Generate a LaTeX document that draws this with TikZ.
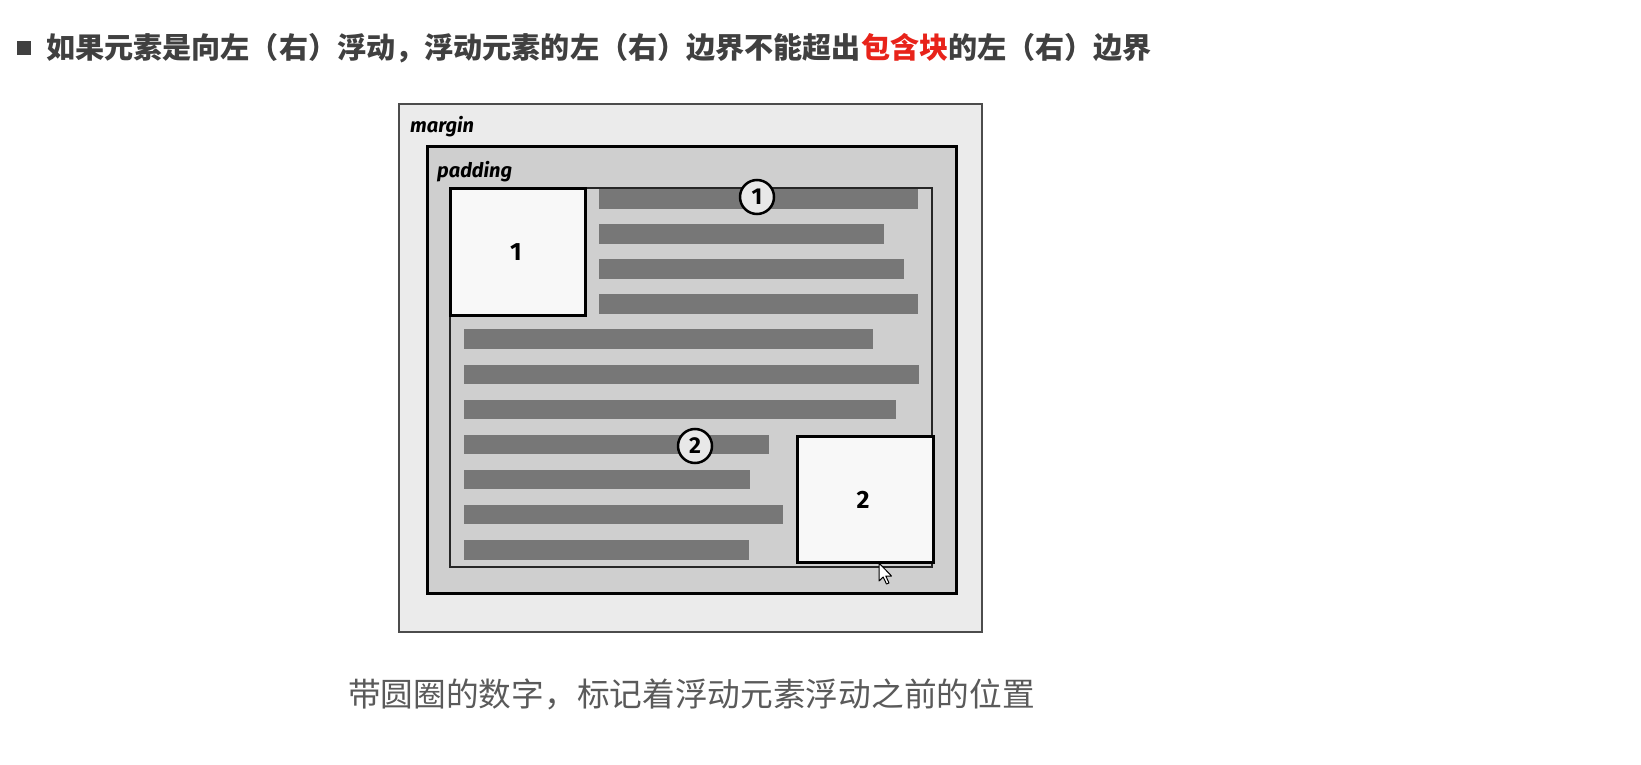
\documentclass[tikz,border=0pt]{standalone}
\usepackage{fontspec}
\newfontfamily\cjk{Noto Sans CJK SC}
\newfontfamily\lab{Fira Sans}
\definecolor{headgray}{HTML}{404040}
\definecolor{hred}{HTML}{E8231A}
\definecolor{capgray}{HTML}{5A5A5A}
\definecolor{margfill}{HTML}{EBEBEB}
\definecolor{padfill}{HTML}{CFCFCF}
\definecolor{barfill}{HTML}{777777}
\definecolor{floatfill}{HTML}{F8F8F8}
\definecolor{circfill}{HTML}{E8E8E8}
\begin{document}
\begin{tikzpicture}[x=1pt,y=-1pt,
  marginbox/.style={draw=black!70,line width=1.5pt,fill=margfill},
  padbox/.style={draw=black,line width=3pt,fill=padfill},
  contentbox/.style={draw=black!85,line width=1.6pt,fill=padfill},
  floatbox/.style={draw=black,line width=3pt,fill=floatfill},
  bar/.style={fill=barfill},
  boxlabel/.style={inner sep=0,anchor=base west,font=\lab\bfseries\itshape\fontsize{20}{22}\selectfont},
  numlabel/.style={inner sep=0,font=\lab\bfseries\fontsize{25}{27}\selectfont},
  circmark/.style={circle,draw=black,line width=2.5pt,fill=circfill,minimum size=34pt,inner sep=0,font=\lab\bfseries\fontsize{23}{25}\selectfont}]
\useasboundingbox[fill=white] (0,0) rectangle (1641,765);
% heading
\fill[headgray] (17,41) rectangle (31,55);
\node[anchor=west,inner sep=0,text=headgray,font=\cjk\bfseries\fontsize{29.1}{31}\selectfont] (title) at (46,48)
  {如果元素是向左（右）浮动，浮动元素的左（右）边界不能超出\textcolor{hred}{包含块}的左（右）边界};
% boxes
\draw[marginbox] (399,104) rectangle (982,632);
\draw[padbox] (427,147) rectangle (956,593);
\draw[contentbox] (450,188) rectangle (932,567);
% text bars
\foreach \k/\xl/\xr in {0/599/918,1/599/884,2/599/904,3/599/918,4/464/873,5/464/919,6/464/896,7/464/769,8/464/750,9/464/783,10/464/749}{
  \fill[bar] (\xl,{189+35.1*\k}) rectangle (\xr,{208.5+35.1*\k});
}
% floats
\draw[floatbox] (450,188) rectangle (585,315);
\draw[floatbox] (797,436) rectangle (933,562);
\node[numlabel] (f1) at (516,252) {1};
\node[numlabel] (f2) at (863,500) {2};
% labels
\node[boxlabel] (marginlab) at (410,133) {margin};
\node[boxlabel] (paddinglab) at (437,178) {padding};
% circled markers
\node[circmark] (c1) at (757,197) {1};
\node[circmark] (c2) at (695,446) {2};
% cursor
\draw[fill=white,draw=black,line width=1pt,line join=round,shift={(879,563)}]
  (0,0) -- (0,18) -- (4.2,14) -- (7.5,21) -- (10,20) -- (6.8,13) -- (12.5,13) -- cycle;
% caption
\node[inner sep=0,text=capgray,font=\cjk\fontsize{32.7}{34}\selectfont] (caption) at (691.5,694)
  {带圆圈的数字，标记着浮动元素浮动之前的位置};
\end{tikzpicture}
\end{document}
